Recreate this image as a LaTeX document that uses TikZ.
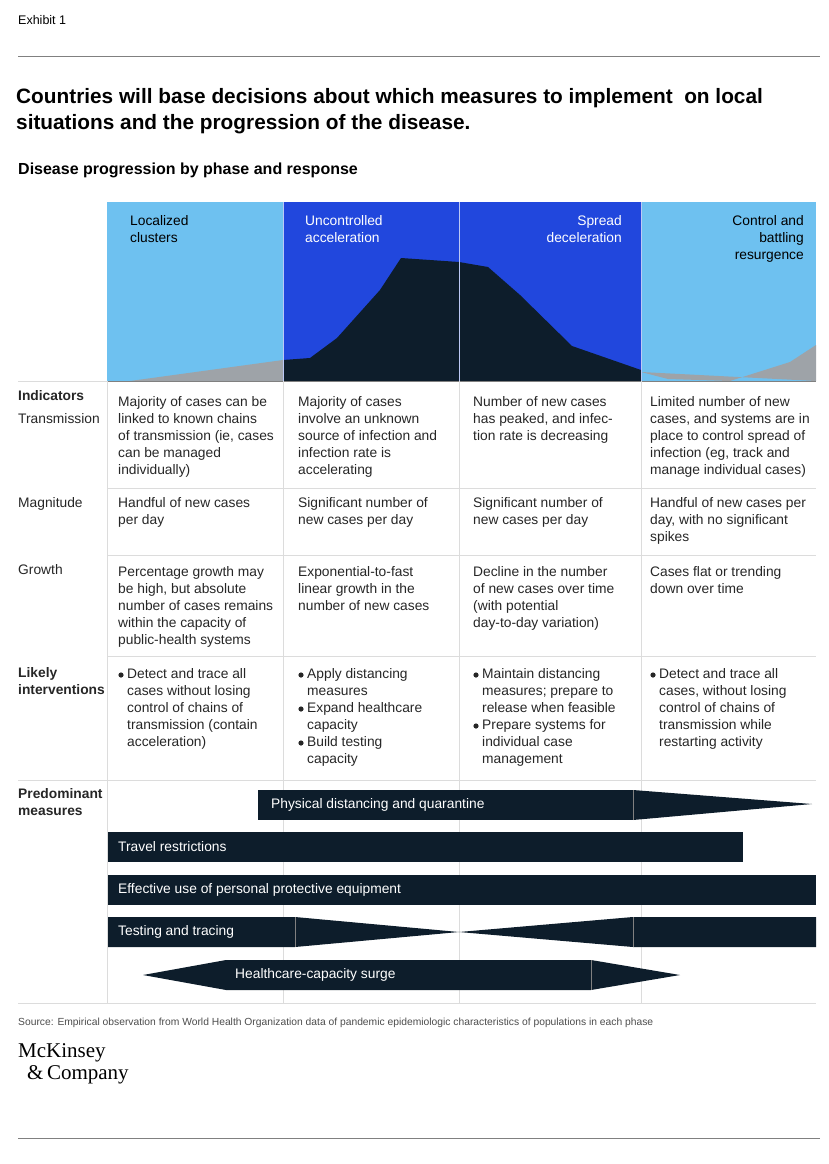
\documentclass[tikz,border=0pt]{standalone}
\usepackage{fontspec}
\setmainfont{Liberation Sans}
\newfontfamily\logofont{Liberation Serif}
\definecolor{lblue}{HTML}{6EC1F0}
\definecolor{dblue}{HTML}{2147DD}
\definecolor{navy}{HTML}{0D1D2B}
\definecolor{gcurve}{HTML}{9EA3A8}
\definecolor{grid}{HTML}{DCDCDC}
\begin{document}
\begin{tikzpicture}[x=1pt,y=-1pt,
  txt/.style={anchor=north west,inner sep=0pt,align=left,font=\fontsize{13.8}{17}\selectfont,text=black!85},
  hd/.style={txt,font=\fontsize{13.8}{17}\selectfont\bfseries},
  bar/.style={fill=navy,draw=none},
  bartxt/.style={anchor=west,inner sep=0pt,text=white,font=\fontsize{13.8}{16}\selectfont},
  gl/.style={draw=grid,line width=0.8pt},
  bul/.style={fill=black!85}]
\useasboundingbox (0,0) rectangle (828,1164);
\node[anchor=west,inner sep=0pt,font=\fontsize{12.5}{14}\selectfont] (ex) at (18,20) {Exhibit 1};
\draw[gray,line width=1pt] (18,57) -- (820,57);
\node[anchor=north west,inner sep=0pt,align=left,font=\fontsize{20.8}{26}\selectfont\bfseries] (title) at (16,88) {Countries will base decisions about which measures to implement\ \ on local\\situations and the progression of the disease.};
\node[anchor=west,inner sep=0pt,font=\fontsize{16}{18}\selectfont\bfseries] (sub) at (18,170) {Disease progression by phase and response};
% chart
\fill[lblue] (107,202) rectangle (283,381);
\fill[dblue] (283,202) rectangle (641,381);
\fill[lblue] (641,202) rectangle (816,381);
\fill[gcurve] (130,381) -- (283,360) -- (283,381) -- cycle;
\fill[navy] (283,381) -- (283,360) -- (310,358) -- (337,338) -- (380,290) -- (401,258) -- (459,262) -- (488,267) -- (520,295) -- (572,346) -- (641,370) -- (641,381) -- cycle;
\fill[gcurve] (641,372) -- (668,379) -- (730,381) -- (790,362) -- (816,345) -- (816,381) -- cycle;
\draw[white!70!dblue,line width=0.6pt] (283,202) -- (283,381) (459,202) -- (459,381) (641,202) -- (641,381);
\draw[gray,line width=1pt] (107,381) -- (816,381);
\node[txt,text=black] (p1) at (130,215) {Localized\\clusters};
\node[txt,text=white] (p2) at (305,215) {Uncontrolled\\acceleration};
\node[txt,text=white,anchor=north east,align=right] (p3) at (622,215) {Spread\\deceleration};
\node[txt,text=black,anchor=north east,align=right] (p4) at (804,215) {Control and\\battling\\resurgence};
% grid
\foreach \x in {107,283,459,641} \draw[gl] (\x,381) -- (\x,1003);
\foreach \y in {488,555,656} \draw[gl] (107,\y) -- (816,\y);
\draw[gl] (18,780) -- (816,780);
\draw[gl] (18,1003) -- (816,1003);
\draw[gl] (18,381) -- (107,381);
% indicators
\node[hd] (ind) at (18,390) {Indicators};
\node[txt] (tr) at (18,413) {Transmission};
\node[txt] (ma) at (18,497) {Magnitude};
\node[txt] (gr) at (18,564) {Growth};
\node[hd] (li) at (18,667) {Likely\\interventions};
\node[hd] (pm) at (18,788) {Predominant\\measures};
\node[txt] at (118,396) {Majority of cases can be\\linked to known chains\\of transmission (ie, cases\\can be managed\\individually)};
\node[txt] at (298,396) {Majority of cases\\involve an unknown\\source of infection and\\infection rate is\\accelerating};
\node[txt] at (473,396) {Number of new cases\\has peaked, and infec-\\tion rate is decreasing};
\node[txt] at (650,396) {Limited number of new\\cases, and systems are in\\place to control spread of\\infection (eg, track and\\manage individual cases)};
\node[txt] at (118,497) {Handful of new cases\\per day};
\node[txt] at (298,497) {Significant number of\\new cases per day};
\node[txt] at (473,497) {Significant number of\\new cases per day};
\node[txt] at (650,497) {Handful of new cases per\\day, with no significant\\spikes};
\node[txt] at (118,566) {Percentage growth may\\be high, but absolute\\number of cases remains\\within the capacity of\\public-health systems};
\node[txt] at (298,566) {Exponential-to-fast\\linear growth in the\\number of new cases};
\node[txt] at (473,566) {Decline in the number\\of new cases over time\\(with potential\\day-to-day variation)};
\node[txt] at (650,566) {Cases flat or trending\\down over time};
% interventions
\fill[bul] (121,675) circle (2.6);
\node[txt] at (127,668) {Detect and trace all\\cases without losing\\control of chains of\\transmission (contain\\acceleration)};
\fill[bul] (301,675) circle (2.6);
\fill[bul] (301,709) circle (2.6);
\fill[bul] (301,743) circle (2.6);
\node[txt] at (307,668) {Apply distancing\\measures\\Expand healthcare\\capacity\\Build testing\\capacity};
\fill[bul] (476,675) circle (2.6);
\fill[bul] (476,726) circle (2.6);
\node[txt] at (482,668) {Maintain distancing\\measures; prepare to\\release when feasible\\Prepare systems for\\individual case\\management};
\fill[bul] (653,675) circle (2.6);
\node[txt] at (659,668) {Detect and trace all\\cases, without losing\\control of chains of\\transmission while\\restarting activity};
% bars
\fill[bar] (258,790) rectangle (633,820);
\fill[bar] (633,790) -- (812,804) -- (633,820) -- cycle;
\draw[gray,line width=0.4pt] (633,790) -- (633,820);
\node[bartxt] (b1) at (271,805) {Physical distancing and quarantine};
\fill[bar] (108,832) rectangle (743,862);
\node[bartxt] (b2) at (118,847) {Travel restrictions};
\fill[bar] (108,875) rectangle (816,905);
\node[bartxt] (b3) at (118,890) {Effective use of personal protective equipment};
\fill[bar] (108,917) -- (295,917) -- (459,932) -- (633,917) -- (816,917) -- (816,947) -- (633,947) -- (459,932) -- (295,947) -- (108,947) -- cycle;
\draw[gray,line width=0.4pt] (295,917) -- (295,947) (633,917) -- (633,947);
\node[bartxt] (b4) at (118,932) {Testing and tracing};
\fill[bar] (143,975) -- (226,960) -- (591,960) -- (680,975) -- (591,990) -- (226,990) -- cycle;
\draw[gray,line width=0.4pt] (591,960) -- (591,990);
\node[bartxt] (b5) at (235,975) {Healthcare-capacity surge};
% footer
\node[anchor=west,inner sep=0pt,font=\fontsize{10.3}{12}\selectfont,text=black!70] (src) at (18,1023) {Source: Empirical observation from World Health Organization data of pandemic epidemiologic characteristics of populations in each phase};
\node[anchor=north west,inner sep=0pt,align=left,font=\logofont\fontsize{21}{22}\selectfont] (logo) at (18,1043) {McKinsey\\\hspace{9pt}\&\,Company};
\draw[gray,line width=1pt] (18,1138) -- (820,1138);
\end{tikzpicture}
\end{document}
